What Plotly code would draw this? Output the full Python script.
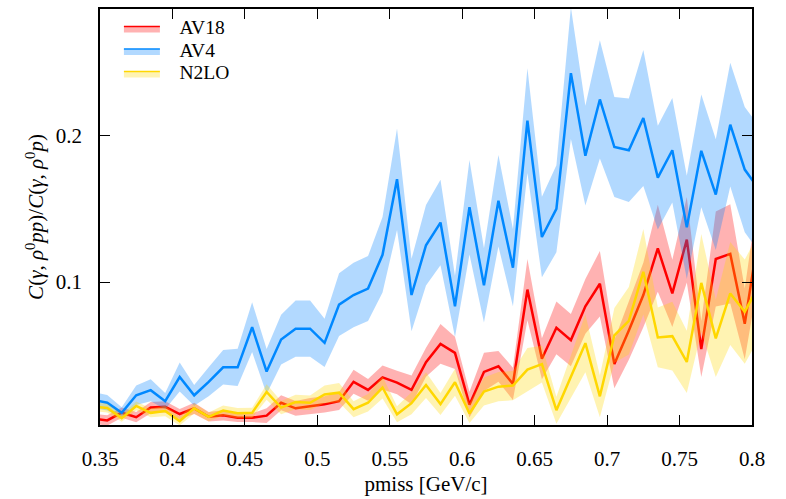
import plotly.graph_objects as go

# bin centres of pmiss [GeV/c]
pmiss = [0.345, 0.355, 0.365, 0.375, 0.385, 0.395, 0.405, 0.415, 0.425, 0.435,
         0.445, 0.455, 0.465, 0.475, 0.485, 0.495, 0.505, 0.515, 0.525, 0.535,
         0.545, 0.555, 0.565, 0.575, 0.585, 0.595, 0.605, 0.615, 0.625, 0.635,
         0.645, 0.655, 0.665, 0.675, 0.685, 0.695, 0.705, 0.715, 0.725, 0.735,
         0.745, 0.755, 0.765, 0.775, 0.785, 0.795, 0.805]

av18 = [0.0068, 0.0055, 0.0108, 0.0077, 0.0143, 0.0148, 0.0099, 0.0138, 0.0080, 0.0090,
        0.0074, 0.0074, 0.0088, 0.0176, 0.0138, 0.0154, 0.0165, 0.0187, 0.0319, 0.0264,
        0.0349, 0.0314, 0.0264, 0.0453, 0.0578, 0.0517, 0.0163, 0.0387, 0.0425, 0.0305,
        0.0949, 0.0477, 0.0688, 0.0604, 0.0835, 0.0989, 0.0440, 0.0670, 0.0912, 0.1231,
        0.0923, 0.1290, 0.0543, 0.1158, 0.1193, 0.0715, 0.1350]
av18_err = [0.0035, 0.0035, 0.0035, 0.0035, 0.0038, 0.0038, 0.0035, 0.0038, 0.0032, 0.0035,
            0.0030, 0.0030, 0.0050, 0.0052, 0.0050, 0.0055, 0.0055, 0.0060, 0.0082, 0.0075,
            0.0082, 0.0080, 0.0099, 0.0099, 0.0136, 0.0110, 0.0088, 0.0130, 0.0105, 0.0110,
            0.0209, 0.0140, 0.0180, 0.0178, 0.0187, 0.0224, 0.0165, 0.0200, 0.0220, 0.0297,
            0.0230, 0.0292, 0.0191, 0.0325, 0.0339, 0.0242, 0.0300]

av4 = [0.0196, 0.0176, 0.0107, 0.0227, 0.0262, 0.0187, 0.0352, 0.0227, 0.0319, 0.0418,
       0.0418, 0.0692, 0.0389, 0.0608, 0.0682, 0.0682, 0.0585, 0.0846, 0.0912, 0.0956,
       0.1187, 0.1703, 0.0912, 0.1252, 0.1407, 0.0835, 0.1512, 0.0978, 0.1556, 0.1099,
       0.2103, 0.1308, 0.1501, 0.2428, 0.1864, 0.2248, 0.1923, 0.1901, 0.2121, 0.1714,
       0.1901, 0.1374, 0.1897, 0.1598, 0.2076, 0.1769, 0.1633]
av4_err = [0.0055, 0.0053, 0.0038, 0.0066, 0.0075, 0.0055, 0.0099, 0.0071, 0.0099, 0.0118,
           0.0127, 0.0170, 0.0154, 0.0170, 0.0192, 0.0192, 0.0165, 0.0214, 0.0220, 0.0222,
           0.0258, 0.0346, 0.0247, 0.0275, 0.0292, 0.0209, 0.0323, 0.0253, 0.0312, 0.0264,
           0.0358, 0.0275, 0.0297, 0.0450, 0.0341, 0.0404, 0.0341, 0.0354, 0.0465, 0.0354,
           0.0357, 0.0352, 0.0385, 0.0379, 0.0423, 0.0428, 0.0430]

n2lo = [0.0150, 0.0140, 0.0071, 0.0154, 0.0107, 0.0119, 0.0051, 0.0138, 0.0080, 0.0123,
        0.0105, 0.0107, 0.0250, 0.0143, 0.0181, 0.0176, 0.0233, 0.0245, 0.0132, 0.0176,
        0.0280, 0.0097, 0.0173, 0.0297, 0.0167, 0.0316, 0.0103, 0.0253, 0.0286, 0.0293,
        0.0402, 0.0440, 0.0125, 0.0352, 0.0583, 0.0220, 0.0637, 0.0736, 0.1071, 0.0622,
        0.0631, 0.0455, 0.0995, 0.0616, 0.0923, 0.0798, 0.0982]
n2lo_err = [0.0030, 0.0030, 0.0025, 0.0030, 0.0030, 0.0036, 0.0030, 0.0035, 0.0030, 0.0035,
            0.0035, 0.0035, 0.0053, 0.0045, 0.0050, 0.0050, 0.0060, 0.0066, 0.0055, 0.0060,
            0.0075, 0.0055, 0.0075, 0.0088, 0.0075, 0.0092, 0.0066, 0.0095, 0.0100, 0.0100,
            0.0148, 0.0125, 0.0092, 0.0143, 0.0198, 0.0143, 0.0187, 0.0231, 0.0292, 0.0204,
            0.0235, 0.0213, 0.0334, 0.0264, 0.0352, 0.0356, 0.0360]

x_ticks = [0.35, 0.4, 0.45, 0.5, 0.55, 0.6, 0.65, 0.7, 0.75, 0.8]
x_ticktext = ["0.35", "0.4", "0.45", "0.5", "0.55", "0.6", "0.65", "0.7", "0.75", "0.8"]
y_ticks = [0.1, 0.2]
y_ticktext = ["0.1", "0.2"]

series = [
    ("AV18", av18, av18_err, "#ff0000", "rgba(255,0,0,0.30)"),
    ("AV4", av4, av4_err, "#0088ff", "rgba(0,128,255,0.30)"),
    ("N2LO", n2lo, n2lo_err, "#ffd700", "rgba(255,215,0,0.30)"),
]

FONT = "'Liberation Serif', 'Times New Roman', serif"
fig = go.Figure()

# legend-only entries
for name, vals, errs, lc, fc in series:
    fig.add_trace(go.Scatter(
        x=[None], y=[None], mode="lines", fill="toself", fillcolor=fc,
        line=dict(color=lc, width=1.5),
        name='<span style="font-size:19.5px">&nbsp;&nbsp;&nbsp;%s</span>' % name,
        showlegend=True))

for name, vals, errs, lc, fc in series:
    upper = [v + e for v, e in zip(vals, errs)]
    lower = [v - e for v, e in zip(vals, errs)]
    fig.add_trace(go.Scatter(
        x=pmiss + pmiss[::-1], y=upper + lower[::-1],
        fill="toself", fillcolor=fc, line=dict(width=0), mode="lines",
        hoverinfo="skip", showlegend=False))
    fig.add_trace(go.Scatter(
        x=pmiss, y=vals, mode="lines", line=dict(color=lc, width=2.5),
        name=name, showlegend=False))

fig.update_layout(
    width=786, height=499,
    margin=dict(l=100, r=34, t=7, b=61),
    paper_bgcolor="white", plot_bgcolor="white",
    font=dict(family=FONT, size=21, color="black"),
    legend=dict(x=0.029, y=0.992, xanchor="left", yanchor="top",
                font=dict(family=FONT, size=15, color="black"),
                bgcolor="rgba(0,0,0,0)", itemwidth=36, tracegroupgap=0),
    xaxis=dict(range=[0.35, 0.8], tickvals=x_ticks, ticktext=x_ticktext,
               ticks="inside", ticklen=10, tickwidth=1, tickcolor="black",
               showline=True, linecolor="black", linewidth=1.5, mirror="allticks",
               showgrid=False, zeroline=False, ticklabelstandoff=14,
               tickfont=dict(family=FONT, size=21),
               title=dict(text="pmiss [GeV/c]", font=dict(family=FONT, size=21), standoff=6)),
    yaxis=dict(range=[0.0024, 0.2866], tickvals=y_ticks, ticktext=y_ticktext,
               ticks="inside", ticklen=10, tickwidth=1, tickcolor="black",
               showline=True, linecolor="black", linewidth=1.5, mirror="allticks",
               showgrid=False, zeroline=False, ticklabelstandoff=12, automargin=False,
               tickfont=dict(family=FONT, size=21),
               title=dict(text="<i>C</i>(<i>γ</i>, <i>ρ</i><sup>0</sup><i>pp</i>)/<i>C</i>(<i>γ</i>, <i>ρ</i><sup>0</sup><i>p</i>)",
                          font=dict(family=FONT, size=21), standoff=6)),
)

fig.write_html("out.html")
